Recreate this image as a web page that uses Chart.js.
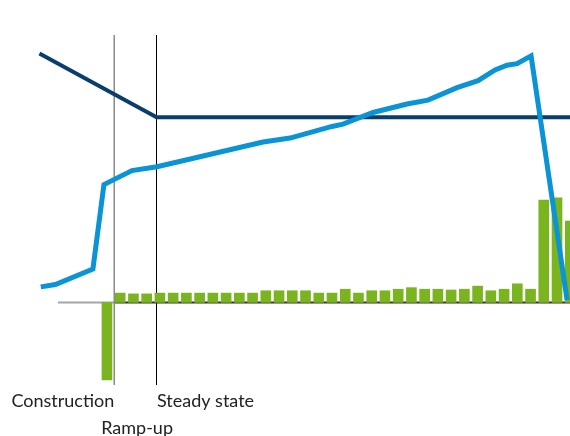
<!DOCTYPE html>
<html>
<head>
<meta charset="utf-8">
<script src="https://cdn.jsdelivr.net/npm/chart.js@4/dist/chart.umd.min.js"></script>
<style>
    html, body { margin: 0; padding: 0; background: #ffffff; }
    #wrap { width: 570px; height: 436px; overflow: hidden; }
</style>
</head>
<body>
<div id="wrap"><canvas id="profileChart" width="570" height="436"></canvas></div>
<script>
// bar periods (years) and net cash flow per period
const periods = [0, 1, 2, 3, 4, 5, 6, 7, 8, 9, 10, 11, 12, 13, 14, 15, 16, 17,
    18, 19, 20, 21, 22, 23, 24, 25, 26, 27, 28, 29, 30, 31, 32, 33, 34, 35];
const cashFlow = [-100, 12, 11, 11, 12, 12, 12, 12, 12, 12, 12, 12, 15, 15, 15, 15, 12, 12,
    17, 12, 15, 15, 17, 19, 17, 17, 16, 17, 21, 15, 17, 24, 17, 132, 135, 105];

// light blue line
const revenueX = [-5, -3.9, -1.06, -0.23, 1.89, 3.78, 11.79, 13.83, 17.0, 17.83,
    20.1, 22.67, 24.25, 26.45, 28.03, 29.32, 30.22, 30.98, 32.04, 34.76];
const revenueY = [20, 23, 43, 152, 170, 175, 207, 212, 227, 230,
    245, 256, 261, 277, 286, 300, 306, 308, 318, 3];

// dark blue line
const tariffX = [-5.1, 3.75, 35];
const tariffY = [321, 239, 239];

const phaseLabels = ["Construction", "Ramp-up", "Steady state"];
const phaseBounds = [0.55, 3.7];
const axisStart = -3.7;

const colors = {
    bar: "#7ab41e",
    revenue: "#0a93d5",
    tariff: "#0b3c6e",
    text: "#222222"
};

const phasePlugin = {
    id: "phases",
    beforeDatasetsDraw(chart) {
        const { ctx, chartArea, scales: { x, y } } = chart;
        const y0 = y.getPixelForValue(0);
        const b0 = x.getPixelForValue(phaseBounds[0]);
        const b1 = x.getPixelForValue(phaseBounds[1]);
        ctx.save();
        ctx.lineWidth = 2;
        ctx.strokeStyle = "#a6a6a6";
        ctx.beginPath();
        ctx.moveTo(x.getPixelForValue(axisStart), y0);
        ctx.lineTo(b0, y0);
        ctx.stroke();
        ctx.strokeStyle = "#333333";
        ctx.beginPath();
        ctx.moveTo(b0, y0);
        ctx.lineTo(chartArea.right, y0);
        ctx.stroke();

        ctx.lineWidth = 1.5;
        ctx.strokeStyle = "#8a8a8a";
        ctx.beginPath();
        ctx.moveTo(b0, chartArea.top);
        ctx.lineTo(b0, chartArea.bottom + 2);
        ctx.stroke();
        ctx.lineWidth = 1;
        ctx.strokeStyle = "#000000";
        ctx.beginPath();
        ctx.moveTo(Math.round(b1) + 0.5, chartArea.top);
        ctx.lineTo(Math.round(b1) + 0.5, chartArea.bottom + 2);
        ctx.stroke();
        ctx.restore();
    },
    afterDraw(chart) {
        const { ctx, chartArea, scales: { x } } = chart;
        const b0 = x.getPixelForValue(phaseBounds[0]);
        const b1 = x.getPixelForValue(phaseBounds[1]);
        ctx.save();
        ctx.fillStyle = colors.text;
        ctx.font = "18px Lato";
        ctx.textBaseline = "alphabetic";
        ctx.textAlign = "right";
        ctx.fillText(phaseLabels[0], b0, chartArea.bottom + 24);
        ctx.textAlign = "left";
        ctx.fillText(phaseLabels[2], b1 + 1, chartArea.bottom + 24);
        ctx.textAlign = "center";
        ctx.fillText(phaseLabels[1], (b0 + b1) / 2 + 2, chartArea.bottom + 51);
        ctx.restore();
    }
};

new Chart(document.getElementById("profileChart"), {
    data: {
        datasets: [
            {
                type: "line",
                data: revenueX.map((v, i) => ({ x: v, y: revenueY[i] })),
                borderColor: colors.revenue,
                borderWidth: 5,
                pointRadius: 0,
                tension: 0,
                order: 0
            },
            {
                type: "line",
                data: tariffX.map((v, i) => ({ x: v, y: tariffY[i] })),
                borderColor: colors.tariff,
                borderWidth: 4,
                pointRadius: 0,
                tension: 0,
                order: 1
            },
            {
                type: "bar",
                data: periods.map((p, i) => ({ x: p, y: cashFlow[i] })),
                backgroundColor: colors.bar,
                barThickness: 10,
                order: 2
            }
        ]
    },
    options: {
        responsive: false,
        devicePixelRatio: 1,
        animation: false,
        layout: { padding: { left: 0, right: 0, top: 35, bottom: 53 } },
        plugins: { legend: { display: false }, tooltip: { enabled: false } },
        scales: {
            x: { type: "linear", min: -8.08, max: 34.98, display: false, offset: false },
            y: { min: -104, max: 345, display: false }
        }
    },
    plugins: [phasePlugin]
});
</script>
</body>
</html>
